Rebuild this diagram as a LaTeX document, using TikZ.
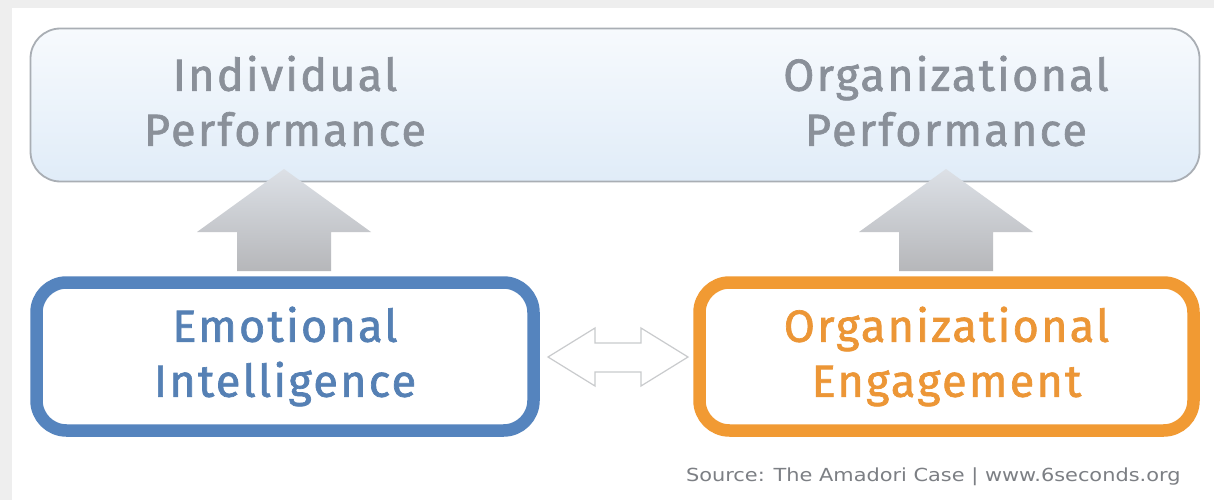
\documentclass[tikz,border=0pt]{standalone}
\usepackage{fontspec}
\usepackage{graphicx}
\setmainfont{Fira Sans}
\newfontfamily\boxfont[FakeBold=1.5,LetterSpace=5]{Fira Sans}
\newfontfamily\srcfont{DejaVu Sans}
\definecolor{framegray}{HTML}{EEEEEE}
\definecolor{boxline}{HTML}{A9AEB4}
\definecolor{boxtop}{HTML}{F7FAFD}
\definecolor{boxbot}{HTML}{E0ECF8}
\definecolor{perftext}{HTML}{8A9099}
\definecolor{eiblue}{HTML}{5584BE}
\definecolor{eitext}{HTML}{5580B4}
\definecolor{oeorange}{HTML}{F19A33}
\definecolor{oetext}{HTML}{EC9636}
\definecolor{arrtop}{HTML}{DCE0E6}
\definecolor{arrbot}{HTML}{B6B7BA}
\definecolor{dblline}{HTML}{C9CBCD}
\definecolor{srcgray}{HTML}{7C7F84}

\begin{document}
\begin{tikzpicture}[x=1pt,y=-1pt,text centered,
  bigtext/.style={font=\boxfont\fontsize{45}{55}\selectfont,align=center},
  basebox/.style={rounded corners=30pt,line width=12.5pt,minimum height=148pt,fill=white}]
  \useasboundingbox (0,0) rectangle (1214,500);
  \fill[framegray] (0,0) rectangle (1214,500);
  \fill[white] (12,8) rectangle (1214,500);

  % top box
  \node (perf) at (615,105) [draw=boxline,line width=1.8pt,rounded corners=30pt,
    minimum width=1169pt,minimum height=153pt,top color=boxtop,bottom color=boxbot] {};
  \node (indperf) at (285,101) [bigtext,text=perftext] {Individual\\Performance};
  \node (orgperf) at (946,101) [bigtext,text=perftext] {Organizational\\Performance};

  % up arrows
  \foreach \x in {284,946}
    \shade[top color=arrtop,bottom color=arrbot]
      (\x,169) -- (\x+87,232) -- (\x+47,232) -- (\x+47,271)
      -- (\x-47,271) -- (\x-47,232) -- (\x-87,232) -- cycle;

  % bottom boxes
  \node (ei) at (285,356.5) [basebox,draw=eiblue,minimum width=497pt,
    bigtext,text=eitext] {Emotional\\Intelligence};
  \node (oe) at (946.5,356.5) [basebox,draw=oeorange,minimum width=494pt,
    bigtext,text=oetext] {Organizational\\Engagement};

  % double arrow
  \draw[dblline,line width=1.2pt,fill=white]
    (548,357) -- (595,328) -- (595,343) -- (641,343) -- (641,328) -- (688,357)
    -- (641,386) -- (641,372) -- (595,372) -- (595,386) -- cycle;

  \node (src) at (1184,477) [anchor=east,text=srcgray,font=\srcfont\fontsize{18}{20}\selectfont]
    {\scalebox{1.16}[1]{Source: The Amadori Case | www.6seconds.org}};

\end{tikzpicture}
\end{document}
